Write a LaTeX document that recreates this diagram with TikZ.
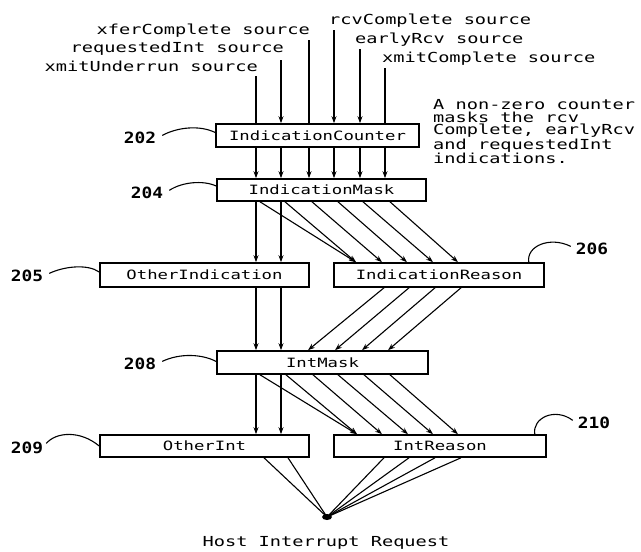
\documentclass[tikz,border=0pt]{standalone}
\usepackage{fontspec}
\newfontfamily\plotfont[FakeStretch=1.35]{DejaVu Sans Mono}
\newfontfamily\numfont[FakeStretch=1.15]{DejaVu Sans Mono}
\usetikzlibrary{arrows.meta,shapes.geometric}
\begin{document}
\begin{tikzpicture}[x=1pt,y=-1pt,
  box/.style={draw,line width=1.6pt,inner sep=0pt,font=\plotfont\fontsize{12.8}{14}\selectfont},
  src/.style={inner sep=0pt,font=\plotfont\fontsize{13.8}{15}\selectfont},
  num/.style={inner sep=0pt,anchor=base,font=\numfont\bfseries\fontsize{15.5}{16}\selectfont},
  wire/.style={line width=1.1pt},
  arr/.style={wire,-{Stealth[length=7pt,width=5pt]}},
  lead/.style={line width=1.1pt}]
\useasboundingbox (0,0) rectangle (641,552);

% boxes
\node[box,minimum width=203pt,minimum height=23pt] (ic) at (317.5,135.5) {IndicationCounter};
\node[box,minimum width=209pt,minimum height=22pt] (im) at (321.5,190) {IndicationMask};
\node[box,minimum width=209pt,minimum height=24pt] (oi) at (204.5,275) {OtherIndication};
\node[box,minimum width=210pt,minimum height=24pt] (ir) at (439,275) {IndicationReason};
\node[box,minimum width=211pt,minimum height=23pt] (intm) at (322.5,362.5) {IntMask};
\node[box,minimum width=209pt,minimum height=22pt] (oint) at (204.5,446) {OtherInt};
\node[box,minimum width=212pt,minimum height=22pt] (irs) at (440,446) {IntReason};

% source texts
\node[src,anchor=base west] (srcv) at (329,24) {rcvComplete source};
\node[src,anchor=base east] (sxfer) at (310,34) {xferComplete source};
\node[src,anchor=base west] (searly) at (355,43) {earlyRcv source};
\node[src,anchor=base east] (sreq) at (284,52) {requestedInt source};
\node[src,anchor=base west] (sxmc) at (382,62) {xmitComplete source};
\node[src,anchor=base east] (sxmu) at (258,71) {xmitUnderrun source};

\coordinate (t1) at (256,76);
\coordinate (t2) at (281,60);
\coordinate (t3) at (309,40);
\coordinate (t4) at (334,30);
\coordinate (t5) at (360,49);
\coordinate (t6) at (385,68);
\draw[wire] (t1) -- (t1 |- ic.north);
\draw[arr] (t2) -- (t2 |- ic.north);
\draw[wire] (t3) -- (t3 |- ic.north);
\draw[arr] (t4) -- (t4 |- ic.north);
\draw[arr] (t5) -- (t5 |- ic.north);
\draw[wire] (t6) -- (t6 |- ic.north);

% note
\node[src,anchor=north west,align=left,font=\plotfont\fontsize{13.8}{12.8}\selectfont] (note) at (433,99)
  {A non-zero counter\\masks the rcv\\Complete, earlyRcv\\and requestedInt\\indications.};

% IC -> IM
\foreach \x in {256,281,309,334,360,385}
  \draw[arr] (ic.south -| \x,0) -- (im.north -| \x,0);

% IM -> OI, IR
\foreach \x in {256,281}
  \draw[arr] (im.south -| \x,0) -- (oi.north -| \x,0);
\foreach \a/\b in {260/356,285/356,312/382,338/407,363/433,390/458}
  \draw[arr] (im.south -| \a,0) -- (ir.north -| \b,0);

% OI, IR -> IntMask
\foreach \x in {256,281}
  \draw[arr] (oi.south -| \x,0) -- (intm.north -| \x,0);
\foreach \a/\b in {384/308,409/335,435/362,461/388}
  \draw[arr] (ir.south -| \a,0) -- (intm.north -| \b,0);

% IntMask -> OtherInt, IntReason
\foreach \x in {256,281}
  \draw[arr] (intm.south -| \x,0) -- (oint.north -| \x,0);
\foreach \a/\b in {260/357,286/357,313/382,338/408,364/433,390/458}
  \draw[arr] (intm.south -| \a,0) -- (irs.north -| \b,0);

% to host interrupt
\node[fill,ellipse,minimum width=10pt,minimum height=6pt,inner sep=0pt] (hdot) at (327,517) {};
\foreach \x in {264,288}
  \draw[wire] (oint.south -| \x,0) -- (hdot.center);
\foreach \x in {384,409,435,461}
  \draw[wire] (irs.south -| \x,0) -- (hdot.center);
\node[src,anchor=base] (hir) at (326,546) {Host Interrupt Request};

% reference numerals
\node[num] (n202) at (140,143) {202};
\node[num] (n204) at (147,198) {204};
\node[num] (n205) at (27,281) {205};
\node[num] (n206) at (592,254) {206};
\node[num] (n208) at (140,369) {208};
\node[num] (n209) at (27,453) {209};
\node[num] (n210) at (594,428) {210};

\draw[lead] ([xshift=6pt,yshift=2pt]n202.east) .. controls (178,127) and (200,125) .. ([yshift=3pt]ic.west);
\draw[lead] ([xshift=6pt,yshift=2pt]n204.east) .. controls (182,182) and (203,180) .. ([yshift=4pt]im.west);
\draw[lead] ([xshift=6pt,yshift=2pt]n205.east) .. controls (65,266) and (88,264) .. ([yshift=3pt]oi.west);
\draw[lead] ([xshift=-16pt]ir.north east) .. controls (526,246) and (550,236) .. ([xshift=-5pt,yshift=2pt]n206.west);
\draw[lead] ([xshift=6pt,yshift=2pt]n208.east) .. controls (180,353) and (202,354) .. ([yshift=1pt]intm.west);
\draw[lead] ([xshift=3pt,yshift=4pt]n209.east) .. controls (56,432) and (80,430) .. (oint.west);
\draw[lead] ([xshift=-12pt]irs.north east) .. controls (532,418) and (555,407) .. ([xshift=-5pt,yshift=2pt]n210.west);
\end{tikzpicture}
\end{document}
